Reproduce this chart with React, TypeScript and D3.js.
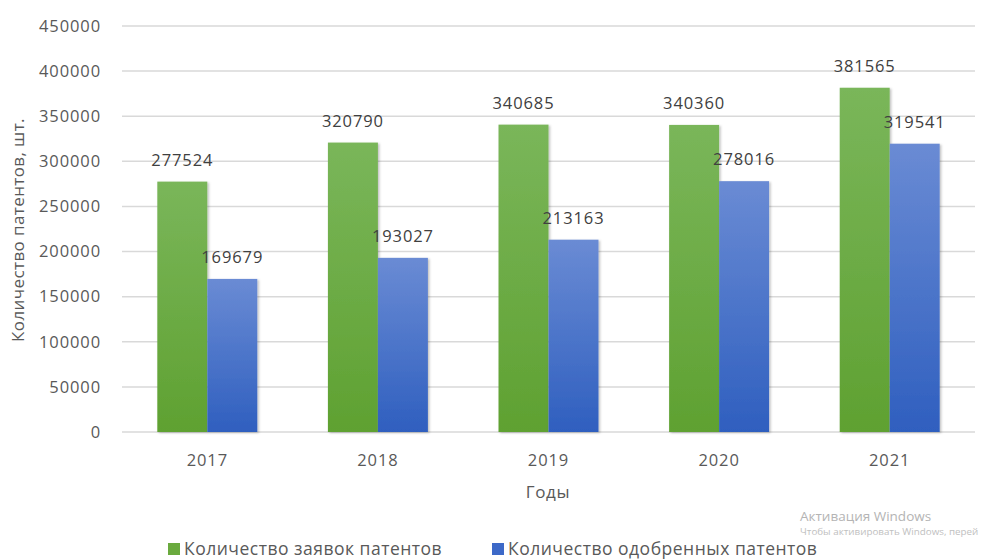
import React from "react";
import * as d3 from "d3";

const years = ["2017", "2018", "2019", "2020", "2021"];
const applications = [277524, 320790, 340685, 340360, 381565];
const approved = [169679, 193027, 213163, 278016, 319541];
const yTicks = [0, 50000, 100000, 150000, 200000, 250000, 300000, 350000, 400000, 450000];
const seriesNames = ["Количество заявок патентов", "Количество одобренных патентов"];

const W = 984, H = 559;
const FONT = "'Open Sans', 'DejaVu Sans', sans-serif";

export default function App() {
  const x = d3.scaleBand<string>().domain(years).range([122, 975]).paddingInner(0.414).paddingOuter(0.207);
  const y = d3.scaleLinear().domain([0, 450000]).range([432, 26]);
  const bw = x.bandwidth() / 2;
  const series = [
    { name: seriesNames[0], values: applications, grad: "gGreen", sw: "#6aaa3e" },
    { name: seriesNames[1], values: approved, grad: "gBlue", sw: "#3d69c8" },
  ];
  return (
    <svg width={W} height={H} style={{ position: "absolute", left: 0, top: 0, background: "#fff" }} fontFamily={FONT}>
      <defs>
        <linearGradient id="gGreen" x1="0" y1="0" x2="0" y2="1">
          <stop offset="0" stopColor="#7ab65a" />
          <stop offset="1" stopColor="#5fa131" />
        </linearGradient>
        <linearGradient id="gBlue" x1="0" y1="0" x2="0" y2="1">
          <stop offset="0" stopColor="#6a8bd4" />
          <stop offset="1" stopColor="#2f5fbf" />
        </linearGradient>
        <filter id="sh" x="-10%" y="-10%" width="130%" height="120%">
          <feDropShadow dx="1.5" dy="1" stdDeviation="1.2" floodColor="#000" floodOpacity="0.25" />
        </filter>
      </defs>
      <rect x={0} y={0} width={W} height={H} fill="#fff" />
      {yTicks.map((t) => (
        <g key={t}>
          <line x1={122} x2={975} y1={y(t)} y2={y(t)} stroke="#d9d9d9" strokeWidth={1.5} />
          <text x={101} y={y(t)} dy="0.35em" textAnchor="end" fontSize={16.5} fill="#595959" letterSpacing={0.9}>{t}</text>
        </g>
      ))}
      {series.map((s, si) =>
        years.map((yr, i) => {
          const x0 = (x(yr) as number) + si * bw;
          return (
            <g key={s.name + yr}>
              <rect x={x0} y={y(s.values[i])} width={bw} height={y(0) - y(s.values[i])} fill={`url(#${s.grad})`} filter="url(#sh)" />
            </g>
          );
        })
      )}
      {series.map((s, si) =>
        years.map((yr, i) => {
          const x0 = (x(yr) as number) + si * bw;
          return (
            <text key={"l" + s.name + yr} x={x0 + bw / 2} y={y(s.values[i]) - 16} textAnchor="middle" fontSize={16.5} fill="#404040" letterSpacing={0.9}>
              {s.values[i]}
            </text>
          );
        })
      )}
      {years.map((yr) => (
        <text key={"x" + yr} x={(x(yr) as number) + x.bandwidth() / 2} y={466} textAnchor="middle" fontSize={16.5} fill="#595959" letterSpacing={0.9}>{yr}</text>
      ))}
      <text x={548} y={498} textAnchor="middle" fontSize={17} fill="#595959" letterSpacing={0.6}>Годы</text>
      <text transform="translate(24,230) rotate(-90)" textAnchor="middle" fontSize={17} fill="#595959" letterSpacing={0.4}>Количество патентов, шт.</text>
      {series.map((s, si) => {
        const lx = si === 0 ? 168 : 492;
        return (
          <g key={"lg" + si}>
            <rect x={lx} y={543} width={12} height={12} fill={s.sw} />
            <text x={lx + 16} y={555} fontSize={17.5} fill="#595959" letterSpacing={0.5}>{s.name}</text>
          </g>
        );
      })}
      <text x={800} y={521} fontSize={13.5} fill="#b4b4b4">Активация Windows</text>
      <text x={800} y={535} fontSize={9.8} fill="#c0c0c0">Чтобы активировать Windows, перей</text>
    </svg>
  );
}
